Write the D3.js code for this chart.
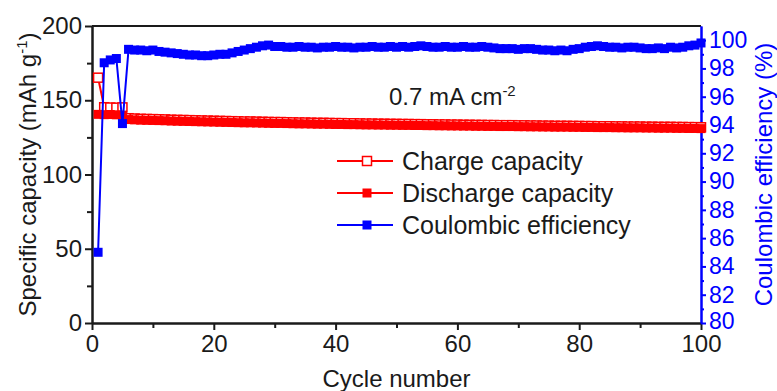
<!DOCTYPE html>
<html><head><meta charset="utf-8">
<script src="https://cdn.jsdelivr.net/npm/d3@7"></script>
<style>
body{margin:0;background:#fff;}
text{font-family:"Liberation Sans",Arial,sans-serif;}
</style></head>
<body><svg id="c" width="777" height="391"></svg>
<script>
const cycles = d3.range(1, 101);
const chargeCapacity = [165.2,145.3,145.1,145.0,145.2,137.9,137.7,137.5,137.4,137.3,
137.2,137.1,136.9,136.8,136.7,136.6,136.5,136.4,136.3,136.2,
136.1,136.0,135.9,135.8,135.7,135.7,135.6,135.5,135.4,135.3,
135.3,135.2,135.1,135.0,135.0,134.9,134.8,134.8,134.7,134.6,
134.6,134.5,134.5,134.4,134.3,134.3,134.2,134.2,134.1,134.1,
134.0,134.0,133.9,133.9,133.8,133.8,133.7,133.7,133.6,133.6,
133.5,133.5,133.4,133.4,133.3,133.3,133.2,133.2,133.2,133.1,
133.1,133.0,133.0,132.9,132.9,132.8,132.8,132.8,132.7,132.7,
132.6,132.6,132.5,132.5,132.5,132.4,132.4,132.3,132.3,132.3,
132.2,132.2,132.1,132.1,132.1,132.0,132.0,131.9,131.9,131.8];
const dischargeCapacity = [140.5,140.3,140.4,140.2,140.0,137.0,136.8,136.6,136.5,136.4,
136.3,136.2,136.0,135.9,135.8,135.7,135.6,135.5,135.4,135.3,
135.2,135.1,135.0,134.9,134.8,134.8,134.7,134.6,134.5,134.4,
134.4,134.3,134.2,134.1,134.1,134.0,133.9,133.9,133.8,133.7,
133.7,133.6,133.6,133.5,133.4,133.4,133.3,133.3,133.2,133.2,
133.1,133.1,133.0,133.0,132.9,132.9,132.8,132.8,132.7,132.7,
132.6,132.6,132.5,132.5,132.4,132.4,132.3,132.3,132.3,132.2,
132.2,132.1,132.1,132.0,132.0,131.9,131.9,131.9,131.8,131.8,
131.7,131.7,131.6,131.6,131.6,131.5,131.5,131.4,131.4,131.4,
131.3,131.3,131.2,131.2,131.2,131.1,131.1,131.0,131.0,130.9];
const coulombicEfficiency = [85.0,98.4,98.6,98.7,94.1,99.35,99.3,99.3,99.25,99.3,
99.2,99.15,99.1,99.05,99.0,98.95,98.95,98.9,98.9,98.95,
99.0,99.0,99.1,99.2,99.3,99.4,99.5,99.6,99.65,99.55,
99.55,99.5,99.5,99.55,99.5,99.5,99.45,99.5,99.5,99.55,
99.5,99.5,99.45,99.5,99.5,99.55,99.5,99.5,99.55,99.5,
99.55,99.5,99.55,99.6,99.55,99.5,99.5,99.55,99.5,99.5,
99.55,99.5,99.5,99.55,99.5,99.45,99.4,99.4,99.4,99.35,
99.4,99.4,99.35,99.3,99.3,99.25,99.3,99.25,99.35,99.4,
99.5,99.55,99.6,99.55,99.5,99.5,99.45,99.5,99.5,99.45,
99.4,99.4,99.45,99.4,99.5,99.45,99.5,99.6,99.65,99.8];
const xTicks = [0,20,40,60,80,100];
const yLeftTicks = [0,50,100,150,200];
const yRightTicks = [80,82,84,86,88,90,92,94,96,98,100];

const svg = d3.select("#c");
const L = 92, R = 701, T = 26, B = 323;
const x = d3.scaleLinear().domain([0,100]).range([L,R]);
const yL = d3.scaleLinear().domain([0,200]).range([B,T]);
const yR = d3.scaleLinear().domain([80,101]).range([B,T]);
const RED = "#ff0000", BLUE = "#0000ff", INK = "#1a1a1a";
const FS = 24;

svg.append("line").attr("x1",L).attr("x2",R).attr("y1",T).attr("y2",T).attr("stroke",INK).attr("stroke-width",2);

function styleAxis(g, color, fs){
  g.select(".domain").attr("stroke",color).attr("stroke-width",2);
  g.selectAll(".tick line").attr("stroke",color).attr("stroke-width",2);
  g.selectAll(".tick text").attr("fill",color).style("font-size",(fs||FS)+"px").style("font-family","'Liberation Sans',Arial,sans-serif");
}
const gxMinor = svg.append("g").attr("transform",`translate(0,${B})`)
  .call(d3.axisBottom(x).tickValues([10,30,50,70,90]).tickSize(5).tickFormat("").tickSizeOuter(0));
styleAxis(gxMinor, INK);
const gx = svg.append("g").attr("transform",`translate(0,${B})`)
  .call(d3.axisBottom(x).tickValues(xTicks).tickSize(7).tickPadding(5).tickSizeOuter(0));
styleAxis(gx, INK);

const gyMinor = svg.append("g").attr("transform",`translate(${L},0)`)
  .call(d3.axisLeft(yL).tickValues([25,75,125,175]).tickSize(5).tickFormat("").tickSizeOuter(0));
styleAxis(gyMinor, INK);
const gy = svg.append("g").attr("transform",`translate(${L},0)`)
  .call(d3.axisLeft(yL).tickValues(yLeftTicks).tickSize(7).tickPadding(3).tickSizeOuter(0));
styleAxis(gy, INK);

const gyrMinor = svg.append("g").attr("transform",`translate(${R},0)`)
  .call(d3.axisRight(yR).tickValues([81,83,85,87,89,91,93,95,97,99]).tickSize(3).tickFormat("").tickSizeOuter(0));
styleAxis(gyrMinor, BLUE);
const gyr = svg.append("g").attr("transform",`translate(${R},0)`)
  .call(d3.axisRight(yR).tickValues(yRightTicks).tickSize(5).tickPadding(3).tickSizeOuter(0));
styleAxis(gyr, BLUE, 23);
gyr.selectAll(".tick").filter(d=>d===80).select("text").attr("dy","0.25em");

const lineFn = (s) => d3.line().x((d,i)=>x(cycles[i])).y(d=>s(d));
const MS = 9;
function drawSeries(vals, s, color, hollow){
  svg.append("path").datum(vals).attr("d", lineFn(s)).attr("fill","none").attr("stroke",color).attr("stroke-width",2);
  svg.append("g").selectAll("rect").data(vals).join("rect")
    .attr("x",(d,i)=>x(cycles[i])-MS/2).attr("y",d=>s(d)-MS/2)
    .attr("width",MS).attr("height",MS)
    .attr("fill",hollow?"#fff":color).attr("stroke",color).attr("stroke-width",hollow?1.5:0);
}
drawSeries(chargeCapacity, yL, RED, true);
drawSeries(dischargeCapacity, yL, RED, false);
drawSeries(coulombicEfficiency, yR, BLUE, false);

const ann = svg.append("text").attr("x",389).attr("y",105).attr("fill",INK).style("font-size","24px");
ann.append("tspan").text("0.7 mA cm");
ann.append("tspan").attr("dy",-9).style("font-size","15px").text("-2");

const legend = [
  {label:"Charge capacity", color:RED, hollow:true},
  {label:"Discharge capacity", color:RED, hollow:false},
  {label:"Coulombic efficiency", color:BLUE, hollow:false}
];
const lg = svg.append("g");
legend.forEach((d,i)=>{
  const cy = 161 + i*32;
  lg.append("line").attr("x1",337).attr("x2",393).attr("y1",cy).attr("y2",cy).attr("stroke",d.color).attr("stroke-width",2);
  lg.append("rect").attr("x",367-MS/2).attr("y",cy-MS/2).attr("width",MS).attr("height",MS)
    .attr("fill",d.hollow?"#fff":d.color).attr("stroke",d.color).attr("stroke-width",d.hollow?1.5:0);
  lg.append("text").attr("x",402).attr("y",cy+9).attr("fill",INK).style("font-size","25px").text(d.label);
});

svg.append("text").attr("x",(L+R)/2).attr("y",387).attr("text-anchor","middle").attr("fill",INK).style("font-size","24px").text("Cycle number");
const lt = svg.append("text").attr("transform",`translate(36,${(T+B)/2}) rotate(-90)`).attr("text-anchor","middle").attr("fill",INK).style("font-size","24px");
lt.append("tspan").text("Specific capacity (mAh g");
lt.append("tspan").attr("dy",-9).style("font-size","15px").text("-1");
lt.append("tspan").attr("dy",9).text(")");
svg.append("text").attr("transform",`translate(772,${(T+B)/2}) rotate(-90)`).attr("text-anchor","middle").attr("fill",BLUE).style("font-size","24px").text("Coulombic efficiency (%)");
</script></body></html>
